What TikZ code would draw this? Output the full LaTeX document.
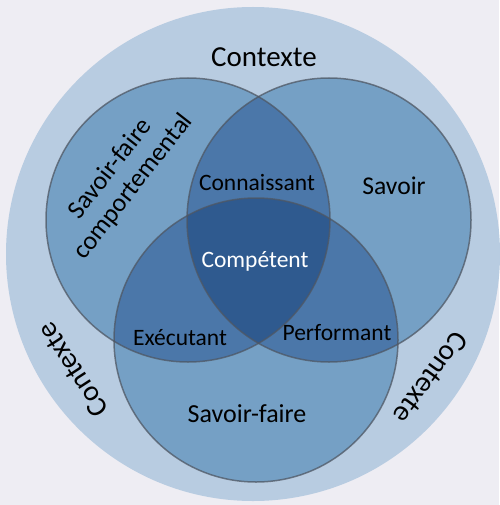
\documentclass[tikz,border=0pt]{standalone}
\usepackage{fontspec}
\setmainfont{Carlito}
\usepackage{xcolor}
\definecolor{pageback}{HTML}{EEEDF3}
\definecolor{ctxblue}{HTML}{B8CCE1}
\definecolor{oneblue}{HTML}{75A0C5}
\definecolor{twoblue}{HTML}{4B77A9}
\definecolor{threeblue}{HTML}{2F5A8F}
\definecolor{rimgray}{HTML}{4F5763}
\newcommand{\Vsize}[1]{\fontsize{#1}{1.12\dimexpr#1pt\relax}\selectfont}
\tikzset{vlabel/.style={inner sep=0pt,anchor=center,align=center}}
\tikzset{vrim/.style={draw=rimgray,draw opacity=0.75,line width=1.5pt}}

\begin{document}
\begin{tikzpicture}[x=1pt,y=-1pt]
% \draw[help lines] (0,0) grid[step=50] (499,505);
\useasboundingbox (0,0) rectangle (499,505);
\fill[pageback] (0,0) rectangle (499,505);
\fill[ctxblue] (253,254) circle (247pt);
%
\coordinate (cL) at (188,220);
\coordinate (cR) at (329,220);
\coordinate (cB) at (256,340);
\fill[oneblue] (cL) circle (142pt);
\fill[oneblue] (cR) circle (142pt);
\fill[oneblue] (cB) circle (142pt);
\begin{scope}
\clip (cL) circle (142pt);
\fill[twoblue] (cR) circle (142pt);
\fill[twoblue] (cB) circle (142pt);
\end{scope}
\begin{scope}
\clip (cR) circle (142pt);
\fill[twoblue] (cB) circle (142pt);
\end{scope}
\begin{scope}
\clip (cL) circle (142pt);
\clip (cR) circle (142pt);
\fill[threeblue] (cB) circle (142pt);
\end{scope}
\draw[vrim] (cL) circle (142pt);
\draw[vrim] (cR) circle (142pt);
\draw[vrim] (cB) circle (142pt);
%
\node (ctxtop) [vlabel,font=\Vsize{29}] at (264,57) {Contexte};
\node (ctxleft) [vlabel,font=\Vsize{29},rotate=123] at (73,370) {Contexte};
\node (ctxright) [vlabel,font=\Vsize{29},rotate=-126] at (431,378) {Contexte};
\node (sfcomp) [vlabel,font=\Vsize{26},rotate=52] at (122,178) {Savoir-faire\\comportemental};
\node (savoir) [vlabel,font=\Vsize{25.6}] at (394,186) {Savoir};
\node (sfaire) [vlabel,font=\Vsize{26}] at (247,414) {Savoir-faire};
\node (conn) [vlabel,font=\Vsize{23.5}] at (257,183) {Connaissant};
\node (comp) [vlabel,font=\Vsize{23.5},text=white] at (255,261) {Compétent};
\node (exec) [vlabel,font=\Vsize{23.5}] at (180,338) {Exécutant};
\node (perf) [vlabel,font=\Vsize{23.5}] at (337,333) {Performant};
\end{tikzpicture}
\end{document}
